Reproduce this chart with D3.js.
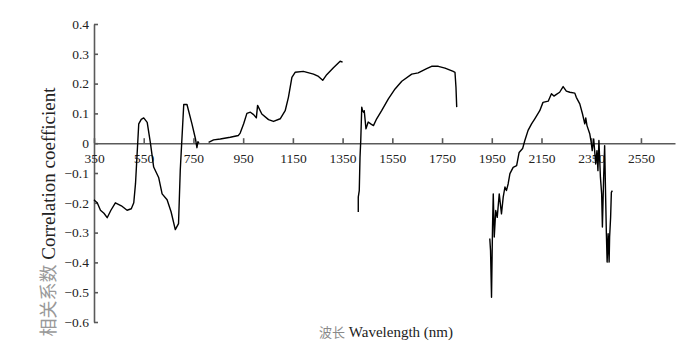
<!DOCTYPE html>
<html>
<head>
<meta charset="utf-8">
<script src="https://cdn.jsdelivr.net/npm/d3@7"></script>
<style>
  html, body { margin: 0; padding: 0; background: #fff; }
  svg { display: block; }
</style>
</head>
<body>
<div id="chart"></div>
<script>
const WIDTH = 700;
const HEIGHT = 355;
const SERIF = '"Liberation Serif", "Times New Roman", Times, serif';
const CJK = '"Noto Sans CJK SC", sans-serif';

// tick labels
const xTicks = [350, 550, 750, 950, 1150, 1350, 1550, 1750, 1950, 2150, 2350, 2550];
const yTicks = [0.4, 0.3, 0.2, 0.1, 0, -0.1, -0.2, -0.3, -0.4, -0.5, -0.6];

// visible-NIR segment
const wl1 = [350, 356, 363, 376, 390, 403, 418, 436, 460, 483, 500, 510, 517, 530, 540, 550, 564, 577, 590, 610, 624, 644, 660, 677, 690, 697, 711, 724, 744, 758, 764, 768, 772];
const r1 = [-0.19, -0.195, -0.20, -0.225, -0.235, -0.25, -0.225, -0.20, -0.21, -0.225, -0.22, -0.2, -0.135, 0.065, 0.08, 0.085, 0.07, 0.0, -0.08, -0.115, -0.17, -0.19, -0.23, -0.29, -0.27, -0.09, 0.13, 0.13, 0.065, 0.015, -0.015, 0.005, 0.0];

const wl2 = [811, 831, 858, 898, 931, 938, 952, 965, 979, 992, 1003, 1008, 1025, 1052, 1072, 1099, 1119, 1132, 1146, 1159, 1192, 1233, 1253, 1270, 1286, 1313, 1340, 1350];
const r2 = [0.003, 0.011, 0.014, 0.02, 0.026, 0.034, 0.065, 0.10, 0.104, 0.096, 0.085, 0.127, 0.098, 0.079, 0.073, 0.082, 0.109, 0.154, 0.221, 0.238, 0.241, 0.232, 0.224, 0.211, 0.23, 0.253, 0.275, 0.272];

const wl3 = [1413, 1413, 1417, 1420, 1423, 1427, 1430, 1434, 1437, 1444, 1453, 1463, 1474, 1487, 1507, 1534, 1561, 1588, 1628, 1654, 1688, 1708, 1735, 1762, 1795, 1802, 1806, 1809];
const r3 = [-0.231, -0.181, -0.159, -0.047, 0.009, 0.121, 0.11, 0.104, 0.109, 0.048, 0.071, 0.065, 0.059, 0.082, 0.109, 0.149, 0.182, 0.208, 0.232, 0.236, 0.25, 0.258, 0.258, 0.252, 0.241, 0.238, 0.188, 0.121];

const wl4 = [1942, 1945, 1949, 1953, 1956, 1960, 1966, 1972, 1980, 1989, 1996, 2003, 2009, 2016, 2023, 2036, 2050, 2060, 2074, 2083, 2096, 2110, 2123, 2143, 2156, 2177, 2190, 2200, 2210, 2223, 2237, 2250, 2264, 2284, 2290, 2304, 2315, 2320, 2324, 2328, 2333, 2344, 2350, 2354, 2360, 2368, 2373, 2377, 2381, 2387, 2392, 2395, 2400, 2404, 2408, 2411, 2414, 2418, 2422, 2424, 2428, 2431, 2435];
const r4 = [-0.32, -0.36, -0.517, -0.281, -0.17, -0.315, -0.226, -0.249, -0.17, -0.237, -0.181, -0.147, -0.159, -0.136, -0.102, -0.081, -0.075, -0.031, -0.018, 0.009, 0.043, 0.065, 0.082, 0.109, 0.137, 0.141, 0.166, 0.158, 0.164, 0.171, 0.19, 0.175, 0.171, 0.168, 0.154, 0.132, 0.098, 0.08, 0.065, 0.085, 0.059, 0.032, 0.003, -0.025, 0.014, -0.07, -0.025, -0.092, 0.009, -0.114, -0.17, -0.281, -0.114, -0.008, -0.181, -0.304, -0.399, -0.304, -0.399, -0.315, -0.249, -0.165, -0.159];

const segments = [[wl1, r1], [wl2, r2], [wl3, r3], [wl4, r4]];

const svg = d3.select('#chart')
  .append('svg')
    .attr('width', WIDTH)
    .attr('height', HEIGHT);

const x = d3.scaleLinear().domain([350, 2687]).range([94, 675]);
const y = d3.scaleLinear().domain([-0.6, 0.4]).range([322, 24]);

// y axis, ticks pointing inward
const yAxis = svg.append('g')
  .attr('transform', `translate(${x(350)},0)`)
  .call(d3.axisLeft(y)
    .tickValues(yTicks)
    .tickSize(-4)
    .tickSizeOuter(0)
    .tickPadding(5)
    .tickFormat(d => d === 0 ? '0' : d3.format('.1f')(d)));

// x axis sits on r = 0
const xAxis = svg.append('g')
  .attr('transform', `translate(0,${y(0)})`)
  .call(d3.axisBottom(x)
    .tickValues(xTicks)
    .tickSize(-5)
    .tickSizeOuter(0)
    .tickPadding(10)
    .tickFormat(d3.format('d')));

[xAxis, yAxis].forEach(g => {
  g.selectAll('text')
    .style('font-family', SERIF)
    .style('font-size', '13.5px')
    .style('fill', '#222');
  g.selectAll('path, line')
    .style('stroke', '#5a5a5a')
    .style('stroke-width', '1.6px');
});

const line = d3.line()
  .x(d => x(d[0]))
  .y(d => y(d[1]));

svg.append('g')
  .selectAll('path')
  .data(segments.map(s => s[0].map((w, i) => [w, s[1][i]])))
  .enter().append('path')
    .attr('d', line)
    .attr('fill', 'none')
    .attr('stroke', '#000')
    .attr('stroke-width', 1.4)
    .attr('stroke-linejoin', 'round');

// axis titles
const xTitle = svg.append('text')
  .attr('x', 386)
  .attr('y', 337)
  .attr('text-anchor', 'middle')
  .style('font-family', SERIF)
  .style('font-size', '15px');
xTitle.append('tspan')
  .style('font-family', CJK)
  .style('font-size', '13px')
  .attr('fill', '#8a8a8a')
  .text('波长');
xTitle.append('tspan').attr('fill', '#222').text(' Wavelength (nm)');

const yTitle = svg.append('text')
  .attr('transform', 'translate(55,212) rotate(-90)')
  .attr('text-anchor', 'middle')
  .style('font-family', SERIF)
  .style('font-size', '19px');
yTitle.append('tspan')
  .style('font-family', CJK)
  .style('font-size', '18px')
  .attr('fill', '#999')
  .text('相关系数');
yTitle.append('tspan').attr('fill', '#222').text(' Correlation coefficient');
</script>
</body>
</html>
